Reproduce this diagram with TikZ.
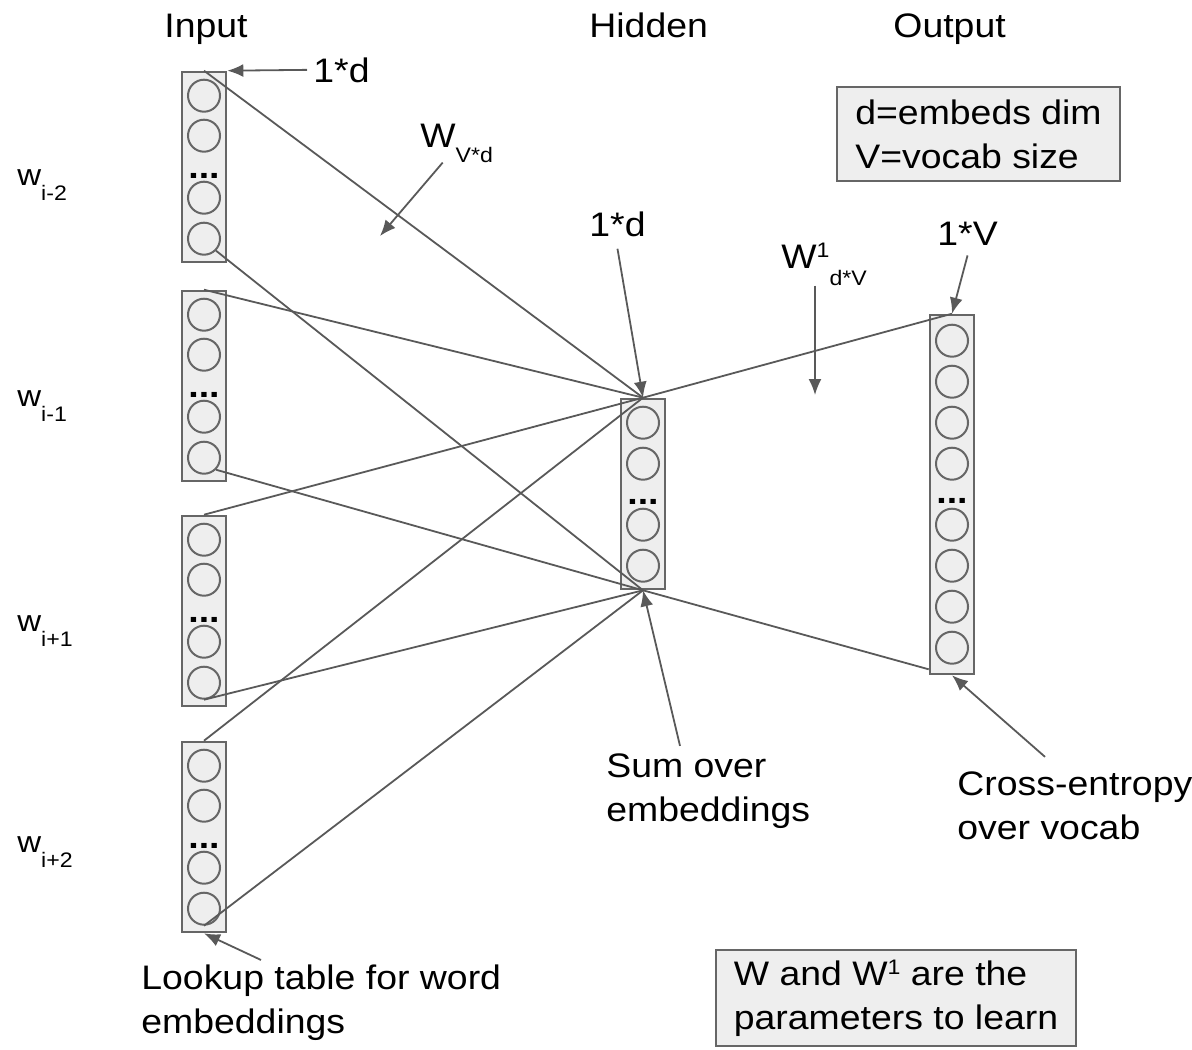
\documentclass[tikz,border=0pt]{standalone}
\usepackage{fontspec}
\setmainfont[FakeStretch=1.1]{Liberation Sans}
\usetikzlibrary{arrows.meta,positioning}
\definecolor{linegray}{RGB}{89,89,89}
\definecolor{boxgray}{RGB}{238,238,238}
\definecolor{edgegray}{RGB}{102,102,102}
\newcommand{\txt}{\fontsize{17}{22}\selectfont}
\newcommand{\wtxt}{\fontsize{15}{18}\selectfont}
\newcommand{\idxtxt}{\fontsize{10.5}{12}\selectfont}
\newcommand{\lowidx}[2][7.5pt]{\raisebox{-#1}{\idxtxt #2}}
\newcommand{\upidx}[1]{\raisebox{5.5pt}{\idxtxt #1}}

\begin{document}
\begin{tikzpicture}[
  x=0.5pt, y=-0.5pt,
  col/.style={
    draw=edgegray,
    line width=1.3pt,
    fill=boxgray,
    minimum width=22pt,
    inner sep=0
  },
  unit/.style={circle,draw=edgegray,line width=1pt,fill=boxgray,minimum size=16pt,inner sep=0},
  dots/.style={anchor=base,font=\txt\bfseries,inner sep=0},
  link/.style={draw=linegray,line width=0.9pt},
  note/.style={-{Latex[length=8pt,width=6.5pt]},draw=linegray,line width=0.9pt},
  lbl/.style={anchor=base west,inner sep=0,font=\txt,align=left},
  wlbl/.style={anchor=base west,inner sep=0,font=\wtxt},
  infobox/.style={
    draw=edgegray,
    line width=1pt,
    fill=boxgray,
    font=\txt,
    align=left,
    inner sep=0
  }
]
\useasboundingbox (0,0) rectangle (1192,1049);

\node[col,minimum height=95pt] (in1) at (204,167) {};
\node[col,minimum height=95pt] (in2) at (204,386) {};
\node[col,minimum height=95pt] (in3) at (204,611) {};
\node[col,minimum height=95pt] (in4) at (204,837) {};
\node[col,minimum height=95pt] (hid) at (643,494) {};
\node[col,minimum height=179.5pt] (out) at (952,494.5) {};

\foreach \b in {1,2,3,4} {
  \foreach \k/\dy in {1/12.5,2/32.5,3/63.5,4/84}
    \node[unit] (in\b c\k) at ([yshift=-\dy pt]in\b.north) {};
  \node[dots] at ([yshift=-54pt]in\b.north) {...};
}
\foreach \k/\dy in {1/12.5,2/33,3/63.5,4/84}
  \node[unit] (hid c\k) at ([yshift=-\dy pt]hid.north) {};
\node[dots] at ([yshift=-53.5pt]hid.north) {...};
\foreach \k/\dy in {1/13.5,2/34,3/54.5,4/75,5/105.5,6/126,7/146.5,8/167}
  \node[unit] (out c\k) at ([yshift=-\dy pt]out.north) {};
\node[dots] at ([yshift=-95pt]out.north) {...};

\draw[link] (in1.north) -- (hid.north);
\draw[link] (in1c4.south east) -- (hid.south);
\draw[link] (in2.north) -- (hid.north);
\draw[link] (in2c4.south east) -- (hid.south) -- ([yshift=3pt]out.south west);
\draw[link] (in3.north) -- (hid.north) -- (out.north);
\draw[link] (in3c4.south) -- (hid.south);
\draw[link] (in4.north) -- (hid.north);
\draw[link] (in4c4.south) -- (hid.south);

\node[lbl] (inhead) at (164,37) {Input};
\node[lbl] (hidhead) at (589,37) {Hidden};
\node[lbl] (outhead) at (893,37) {Output};

\node[wlbl] (w1) at (17,185) {w\lowidx{i-2}};
\node[wlbl] (w2) at (17,406) {w\lowidx{i-1}};
\node[wlbl] (w3) at (17,631) {w\lowidx{i+1}};
\node[wlbl] (w4) at (17,852) {w\lowidx{i+2}};

\node[lbl] (dim1) at (313,82) {1*d};
\node[lbl] (wvd) at (420,147) {W\lowidx{V*d}};
\node[lbl] (dim2) at (589,236) {1*d};
\node[lbl] (wdv) at (781,268) {W\upidx{1}\lowidx[8.5pt]{d*V}};
\node[lbl] (dimv) at (937,245) {1*V};
\node[lbl] (sum) at (606,821) {Sum over\\embeddings};
\node[lbl] (xent) at (957,839) {Cross-entropy\\over vocab};
\node[lbl] (lookup) at (141,1033) {Lookup table for word\\embeddings};

\node[infobox,minimum width=141.5pt,minimum height=47pt] (legend) at (978.5,134) {d=embeds dim\\V=vocab size};
\node[infobox,minimum width=180pt,minimum height=48pt] (params) at (896,998) {W and W\upidx{1} are the\\parameters to learn};

\coordinate (wvdtip) at (380,236);
\coordinate (wdvtip) at (815,395);

\draw[note] ([xshift=-3pt]dim1.west) -- (in1.north east);
\draw[note] ([xshift=-7pt]wvd.south) -- (wvdtip);
\draw[note] ([yshift=-6pt]dim2.south) -- (hid.north);
\draw[note] (wdv.south -| wdvtip) -- (wdvtip);
\draw[note] ([yshift=-5pt]dimv.south) -- (out.north);
\draw[note] ([xshift=37pt,yshift=3.5pt]sum.north west) -- (hid.south);
\draw[note] ([xshift=44pt,yshift=7pt]xent.north west) -- (out.south);
\draw[note] ([xshift=60pt,yshift=2pt]lookup.north west) -- (in4.south);
\end{tikzpicture}
\end{document}
